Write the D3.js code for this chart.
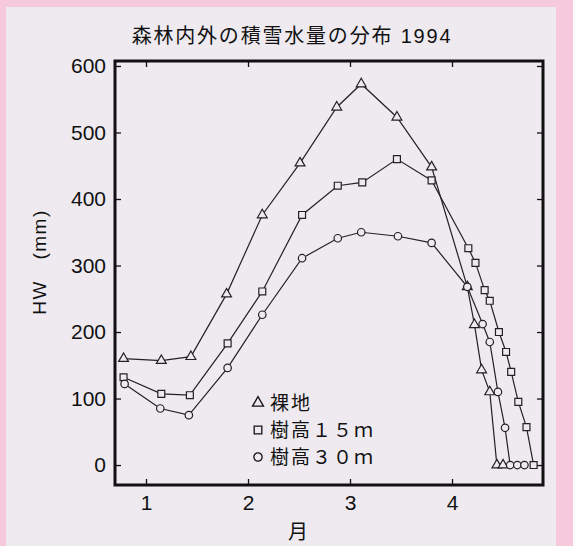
<!DOCTYPE html>
<html>
<head>
<meta charset="utf-8">
<script src="https://cdn.jsdelivr.net/npm/d3@7"></script>
<style>
  body { margin: 0; background: #f7c9dc; }
  text { font-family: 'Liberation Sans', 'Noto Sans CJK JP', sans-serif; fill: #111; }
</style>
</head>
<body>
<div id="chart"></div>
<script>
// values (month, HW mm)
const bareX = [0.78, 1.15, 1.44, 1.79, 2.14, 2.51, 2.87, 3.11, 3.46, 3.80, 4.15, 4.22, 4.29, 4.37, 4.44, 4.50];
const bareHW = [160, 157, 163, 257, 376, 454, 538, 573, 523, 448, 268, 211, 143, 110, 0, 0];

const tree15X = [0.78, 1.15, 1.43, 1.80, 2.14, 2.53, 2.88, 3.12, 3.46, 3.80, 4.16, 4.23, 4.32, 4.37, 4.46, 4.53, 4.58, 4.65, 4.73, 4.80];
const tree15HW = [132, 107, 105, 183, 261, 376, 420, 425, 460, 428, 326, 304, 263, 247, 200, 170, 140, 95, 57, 0];

const tree30X = [0.79, 1.14, 1.42, 1.80, 2.14, 2.53, 2.88, 3.11, 3.47, 3.80, 4.15, 4.30, 4.37, 4.45, 4.52, 4.57, 4.64, 4.71];
const tree30HW = [122, 85, 75, 146, 226, 311, 341, 350, 344, 334, 268, 212, 185, 110, 56, 0, 0, 0];

const yTicks = [0, 100, 200, 300, 400, 500, 600];
const xTicks = [1, 2, 3, 4];
const legendLabels = ['裸地', '樹高１５ｍ', '樹高３０ｍ'];

const W = 573;
const H = 546;
const plot = { l: 115, r: 543, t: 61, b: 485 };

const svg = d3.select('#chart')
  .append('svg')
  .attr('width', W)
  .attr('height', H)
  .style('display', 'block');

// paper background inside the pink border
svg.append('rect')
  .attr('x', 6).attr('y', 7)
  .attr('width', 550).attr('height', H - 7)
  .attr('fill', '#eeeaf0');

const x = d3.scaleLinear().domain([0.696, 4.892]).range([plot.l, plot.r]);
const y = d3.scaleLinear().domain([-30, 607.5]).range([plot.b, plot.t]);

// axes with inward ticks
const axLeft = svg.append('g')
  .attr('transform', `translate(${plot.l},0)`)
  .call(d3.axisLeft(y).tickValues(yTicks).tickSizeInner(-6).tickSizeOuter(0).tickPadding(9).tickFormat(d3.format('d')));
const axRight = svg.append('g')
  .attr('transform', `translate(${plot.r},0)`)
  .call(d3.axisRight(y).tickValues(yTicks).tickSizeInner(-6).tickSizeOuter(0).tickFormat(''));
const axBottom = svg.append('g')
  .attr('transform', `translate(0,${plot.b})`)
  .call(d3.axisBottom(x).tickValues(xTicks).tickSizeInner(-6).tickSizeOuter(0).tickPadding(10).tickFormat(d3.format('d')));
const axTop = svg.append('g')
  .attr('transform', `translate(0,${plot.t})`)
  .call(d3.axisTop(x).tickValues(xTicks).tickSizeInner(-6).tickSizeOuter(0).tickFormat(''));

[axLeft, axRight, axBottom, axTop].forEach((g) => {
  g.select('.domain').remove();
  g.selectAll('line').attr('stroke', '#111').attr('stroke-width', 1.3);
  g.selectAll('text').attr('font-size', 21).attr('fill', '#111');
});

// frame
svg.append('rect')
  .attr('x', plot.l).attr('y', plot.t)
  .attr('width', plot.r - plot.l).attr('height', plot.b - plot.t)
  .attr('fill', 'none')
  .attr('stroke', '#111')
  .attr('stroke-width', 3);

const series = [
  { xs: bareX, ys: bareHW, sym: d3.symbolTriangle, size: 42 },
  { xs: tree15X, ys: tree15HW, sym: d3.symbolSquare, size: 48 },
  { xs: tree30X, ys: tree30HW, sym: d3.symbolCircle, size: 44 },
];

const line = d3.line().x((d) => x(d[0])).y((d) => y(d[1]));

series.forEach((s) => {
  const pts = s.xs.map((v, i) => [v, s.ys[i]]);
  svg.append('path')
    .attr('d', line(pts))
    .attr('fill', 'none')
    .attr('stroke', '#222')
    .attr('stroke-width', 1.2);
});

series.forEach((s) => {
  const pts = s.xs.map((v, i) => [v, s.ys[i]]);
  svg.append('g')
    .selectAll('path')
    .data(pts)
    .join('path')
    .attr('transform', (d) => `translate(${x(d[0])},${y(d[1])})`)
    .attr('d', d3.symbol().type(s.sym).size(s.size))
    .attr('fill', '#eeeaf0')
    .attr('stroke', '#222')
    .attr('stroke-width', 1.2);
});

// legend
const legend = svg.append('g').attr('transform', 'translate(258,403)');
legendLabels.forEach((lab, i) => {
  legend.append('path')
    .attr('transform', `translate(0,${i * 27})`)
    .attr('d', d3.symbol().type(series[i].sym).size(series[i].size + 10))
    .attr('fill', 'none')
    .attr('stroke', '#111')
    .attr('stroke-width', 1.3);
  legend.append('text')
    .attr('x', 12)
    .attr('y', i * 27 + 7)
    .attr('font-size', 19)
    .attr('letter-spacing', '2px')
    .text(lab);
});

// title and axis names
svg.append('text')
  .attr('x', 292).attr('y', 43)
  .attr('text-anchor', 'middle')
  .attr('font-size', 20)
  .attr('letter-spacing', '1.8px')
  .text('森林内外の積雪水量の分布 1994');

svg.append('text')
  .attr('x', 298).attr('y', 539)
  .attr('text-anchor', 'middle')
  .attr('font-size', 20)
  .text('月');

svg.append('text')
  .attr('transform', 'translate(46,262) rotate(-90)')
  .attr('text-anchor', 'middle')
  .attr('font-size', 19)
  .attr('letter-spacing', '1.5px')
  .text('HW　(mm)');
</script>
</body>
</html>
